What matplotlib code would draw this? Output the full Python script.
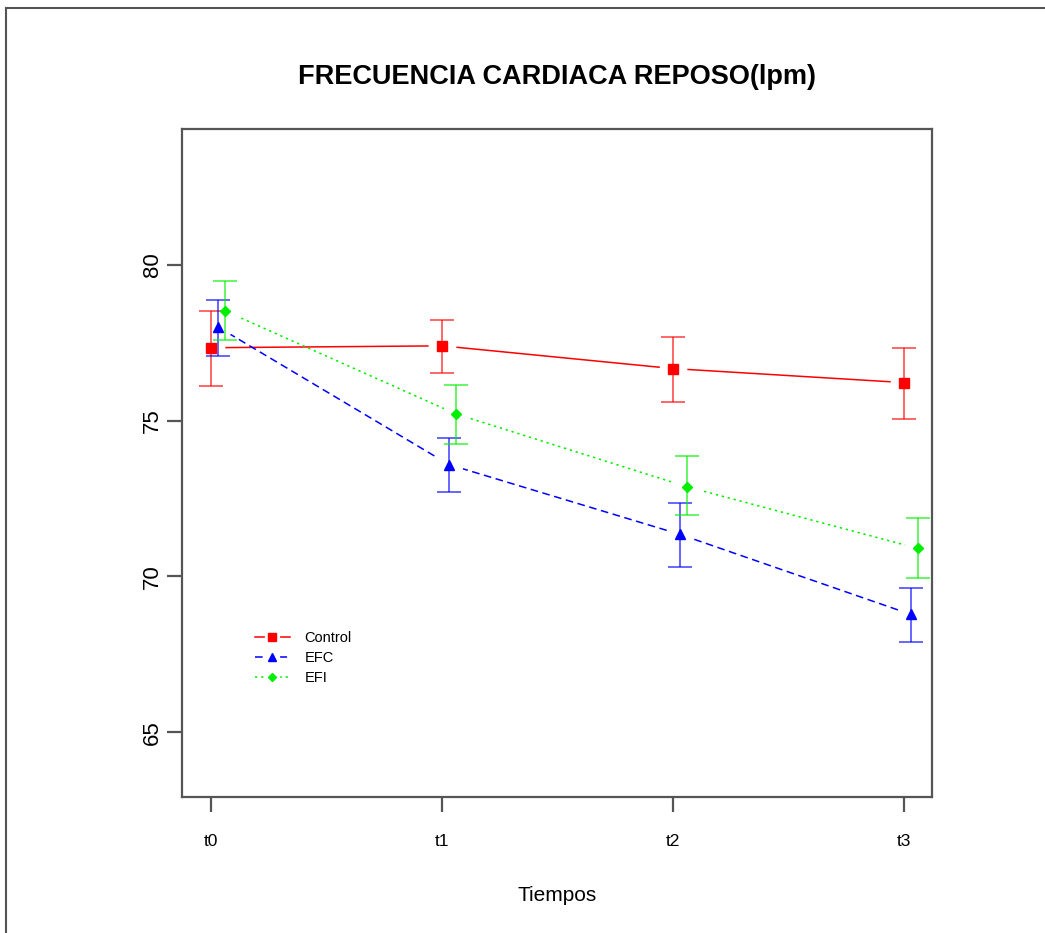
import numpy as np
import matplotlib
matplotlib.use("Agg")
import matplotlib.pyplot as plt
from matplotlib.lines import Line2D
from matplotlib.legend_handler import HandlerTuple

plt.rcParams['font.family'] = ['Liberation Sans', 'DejaVu Sans']

# values
tiempos = ["t0", "t1", "t2", "t3"]
grupos = ["Control", "EFC", "EFI"]

control_media = [77.34, 77.40, 76.67, 76.22]
control_inf = [76.12, 76.54, 75.61, 75.06]
control_sup = [78.53, 78.24, 77.69, 77.34]

efc_media = [78.01, 73.59, 71.35, 68.78]
efc_inf = [77.08, 72.72, 70.29, 67.88]
efc_sup = [78.88, 74.45, 72.37, 69.62]

efi_media = [78.53, 75.22, 72.88, 70.90]
efi_inf = [77.60, 74.26, 71.96, 69.94]
efi_sup = [79.49, 76.15, 73.85, 71.89]

y_ticks = [65, 70, 75, 80]

# drawing styles (kept apart from the data)
estilos = {
    "Control": dict(color="#ff0000", ls="-", marker="s", ms=7, off=0.0),
    "EFC": dict(color="#0000ff", ls=(0, (5, 3)), marker="^", ms=7.5, off=0.029),
    "EFI": dict(color="#00ee00", ls=(0, (1.5, 2.5)), marker="D", ms=5.5, off=0.058),
}

series = {
    "Control": (control_media, control_inf, control_sup),
    "EFC": (efc_media, efc_inf, efc_sup),
    "EFI": (efi_media, efi_inf, efi_sup),
}


def draw_chart():
    fig = plt.figure(figsize=(10.45, 9.33), dpi=100)
    ax = fig.add_axes([182 / 1045, 136 / 933, 750 / 1045, 668 / 933])

    x_base = np.arange(len(tiempos))

    # connecting lines, with a white ring round each point to get R's type="b" gaps
    for g in grupos:
        st = estilos[g]
        media = series[g][0]
        ax.plot(x_base + st["off"], media, color=st["color"], ls=st["ls"], lw=1.1,
                marker="o", ms=19, mfc="white", mec="white", zorder=2)

    # error bars
    for g in grupos:
        st = estilos[g]
        media, inf, sup = [np.array(v) for v in series[g]]
        yerr = [media - inf, sup - media]
        ax.errorbar(x_base + st["off"], media, yerr=yerr, fmt="none", ecolor=st["color"],
                    elinewidth=1.4, capsize=8.6, capthick=1.4, alpha=0.6, zorder=3)

    # points
    for g in grupos:
        st = estilos[g]
        ax.plot(x_base + st["off"], series[g][0], ls="none", marker=st["marker"],
                ms=st["ms"], color=st["color"], zorder=4)

    ax.set_xlim(-0.126, 3.12)
    ax.set_ylim(62.92, 84.36)
    ax.set_xticks(x_base)
    ax.set_xticklabels(tiempos, fontsize=12.5)
    ax.set_yticks(y_ticks)
    ax.set_yticklabels([str(v) for v in y_ticks], fontsize=16, rotation=90, va="center")

    for s in ax.spines.values():
        s.set_color("#555555")
        s.set_linewidth(1.6)
    ax.tick_params(axis="both", direction="out", length=11, width=1.6, color="#555555")
    ax.tick_params(axis="x", pad=16)
    ax.tick_params(axis="y", pad=3)

    ax.set_title("FRECUENCIA CARDIACA REPOSO(lpm)", fontsize=19.5, fontweight="bold",
                 y=1.078, va="center", pad=0)
    ax.set_xlabel("Tiempos", fontsize=15, va="center")
    ax.xaxis.set_label_coords(0.5, -0.148)

    # legend with the same gapped look
    handles = []
    for g in grupos:
        st = estilos[g]
        linea = Line2D([], [], color=st["color"], ls=st["ls"], lw=1.1, marker="o",
                       ms=10, mfc="white", mec="white")
        punto = Line2D([], [], ls="none", marker=st["marker"], color=st["color"],
                       ms=st["ms"] * 0.75)
        handles.append((linea, punto))
    ax.legend(handles, grupos, handler_map={tuple: HandlerTuple(ndivide=1)},
              loc="center left", bbox_to_anchor=(0.097, 0.208), frameon=False,
              fontsize=10.5, handlelength=2.4, handletextpad=1.0, labelspacing=0.4,
              borderpad=0, borderaxespad=0)

    # outer border of the original screenshot
    fig.add_artist(Line2D([6 / 1045, 6 / 1045], [0, 1 - 8 / 933], transform=fig.transFigure,
                          color="#555555", lw=1.5))
    fig.add_artist(Line2D([6 / 1045, 1], [1 - 8 / 933, 1 - 8 / 933], transform=fig.transFigure,
                          color="#555555", lw=1.5))

    fig.savefig("out.png", dpi=100)
    plt.close(fig)


if __name__ == '__main__':
    draw_chart()
